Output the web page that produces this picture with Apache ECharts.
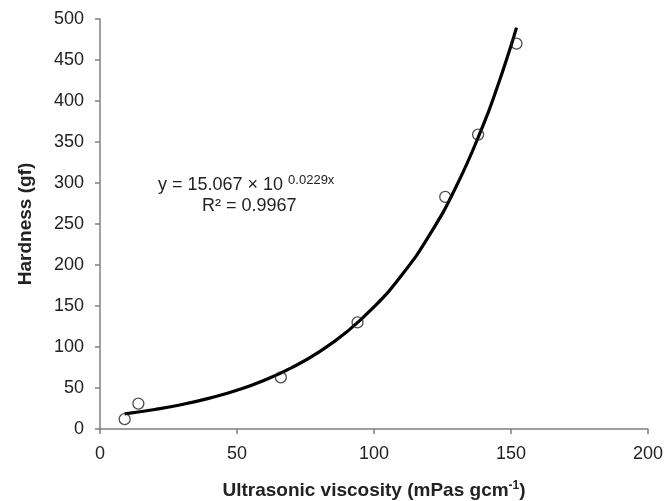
<!DOCTYPE html>
<html><head><meta charset="utf-8">
<script src="https://cdn.jsdelivr.net/npm/echarts@6/dist/echarts.min.js"></script>
<style>html,body{margin:0;padding:0;background:#fff}#c{width:665px;height:501px}</style>
</head><body><div id="c"></div>
<script>
var pointX = [9, 14, 66, 94, 126, 138, 152];
var pointY = [12, 31, 63, 130, 283, 359, 470];
var fitX = [9, 20, 30, 40, 50, 60, 70, 80, 90, 100, 110, 120, 130, 140, 145, 150, 152];
var fitY = [18.5, 23.8, 29.9, 37.7, 47.3, 59.5, 74.9, 94.1, 118.3, 148.8, 187.1, 235.2, 295.7, 371.8, 417.0, 467.5, 489.5];
var xTicks = [0, 50, 100, 150, 200];
var yTicks = [0, 50, 100, 150, 200, 250, 300, 350, 400, 450, 500];

var chart = echarts.init(document.getElementById('c'));
var font = 'Liberation Sans, Arial, sans-serif';
chart.setOption({
  animation: false,
  grid: {left: 100, right: 17, top: 19, bottom: 72, containLabel: false, outerBoundsMode: 'none'},
  xAxis: {
    type: 'value', min: xTicks[0], max: xTicks[xTicks.length-1], interval: 50,
    axisLine: {lineStyle: {color: '#808080', width: 1.5}},
    axisTick: {show: true, inside: false, length: 5, lineStyle: {color: '#808080', width: 1.5}},
    splitLine: {show: false},
    axisLabel: {color: '#222', fontSize: 18, fontFamily: font, margin: 16},
    name: '{b|Ultrasonic viscosity (mPas gcm}{s|-1}{b|)}',
    nameLocation: 'middle', nameGap: 51,
    nameTextStyle: {rich: {
      b: {fontSize: 19, fontWeight: 'bold', fontFamily: font, color: '#222'},
      s: {fontSize: 12, fontWeight: 'bold', fontFamily: font, color: '#222', verticalAlign: 'top', padding: [0,0,9,0]}
    }}
  },
  yAxis: {
    type: 'value', min: yTicks[0], max: yTicks[yTicks.length-1], interval: 50,
    axisLine: {show: true, lineStyle: {color: '#808080', width: 1.5}},
    axisTick: {show: true, inside: false, length: 5, lineStyle: {color: '#808080', width: 1.5}},
    splitLine: {show: false},
    axisLabel: {color: '#222', fontSize: 18, fontFamily: font, margin: 16},
    name: 'Hardness (gf)', nameLocation: 'middle', nameGap: 65, nameRotate: 90,
    nameTextStyle: {fontSize: 19, fontWeight: 'bold', fontFamily: font, color: '#222'}
  },
  series: [
    {
      type: 'line', data: fitX.map(function(x, i){return [x, fitY[i]];}),
      smooth: true, showSymbol: false, symbol: 'none',
      lineStyle: {color: '#000', width: 3.2}, z: 2
    },
    {
      type: 'scatter', data: pointX.map(function(x, i){return [x, pointY[i]];}),
      symbol: 'circle', symbolSize: 11,
      itemStyle: {color: 'rgba(255,255,255,0)', borderColor: '#222', borderWidth: 1.3}, z: 3
    }
  ],
  graphic: [
    {type: 'text', left: 158, top: 174, style: {
      text: '{a|y = 15.067 × 10 }{s|0.0229x}',
      rich: {
        a: {fontSize: 18, fontFamily: font, fill: '#222'},
        s: {fontSize: 13, fontFamily: font, fill: '#222', verticalAlign: 'top', padding: [0,0,9,0]}
      }
    }},
    {type: 'text', left: 202, top: 197, style: {
      text: 'R² = 0.9967', fontSize: 18, fontFamily: font, fill: '#222'
    }}
  ]
});
</script></body></html>
